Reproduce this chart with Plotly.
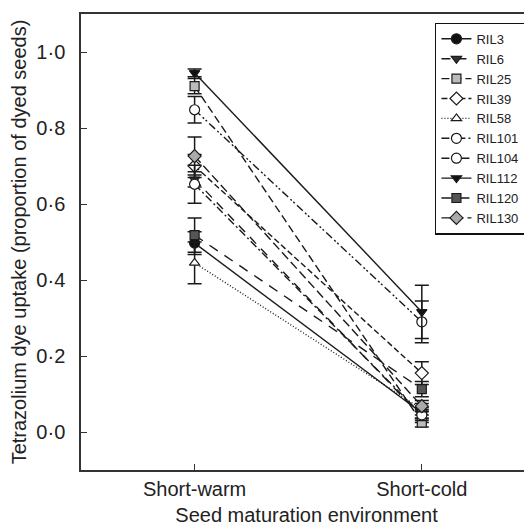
import plotly.graph_objects as go

envs = ['Short-warm', 'Short-cold']
lines = ['RIL3', 'RIL6', 'RIL25', 'RIL39', 'RIL58', 'RIL101', 'RIL104', 'RIL112', 'RIL120', 'RIL130']

# mean proportion of dyed seeds: [short-warm, short-cold]
means = {
    'RIL3':   [0.497, 0.050],
    'RIL6':   [0.665, 0.040],
    'RIL25':  [0.910, 0.025],
    'RIL39':  [0.700, 0.155],
    'RIL58':  [0.445, 0.060],
    'RIL101': [0.652, 0.045],
    'RIL104': [0.848, 0.290],
    'RIL112': [0.945, 0.316],
    'RIL120': [0.518, 0.113],
    'RIL130': [0.726, 0.068],
}
errs = {
    'RIL3':   [0.030, 0.015],
    'RIL6':   [0.020, 0.015],
    'RIL25':  [0.020, 0.012],
    'RIL39':  [0.030, 0.030],
    'RIL58':  [0.055, 0.015],
    'RIL101': [0.050, 0.015],
    'RIL104': [0.035, 0.055],
    'RIL112': [0.010, 0.070],
    'RIL120': [0.045, 0.020],
    'RIL130': [0.050, 0.015],
}

yticks = [0, 0.2, 0.4, 0.6, 0.8, 1.0]
yticklabels = ['0·0', '0·2', '0·4', '0·6', '0·8', '1·0']

# line dash, marker symbol, marker fill
styles = {
    'RIL3':   ('solid', 'circle', '#111111'),
    'RIL6':   ('9px,7px', 'triangle-down', '#333333'),
    'RIL25':  ('8px,4px', 'square', '#bbbbbb'),
    'RIL39':  ('6px,3px', 'diamond', 'white'),
    'RIL58':  ('1px,2px', 'triangle-up', 'white'),
    'RIL101': ('8px,3px,2px,3px', 'circle', 'white'),
    'RIL104': ('8px,3px,2px,2px,2px,3px', 'circle', 'white'),
    'RIL112': ('solid', 'triangle-down', '#111111'),
    'RIL120': ('10px,8px', 'square', '#555555'),
    'RIL130': ('9px,4px', 'diamond', '#aaaaaa'),
}

fig = go.Figure()
for name in lines:
    dash, sym, fill = styles[name]
    fig.add_trace(go.Scatter(
        x=envs, y=means[name], name=name, mode='lines+markers',
        line=dict(color='#1a1a1a', width=1.4, dash=dash),
        marker=dict(symbol=sym, size=10 if 'circle' in sym or 'diamond' in sym else 9,
                    color=fill, line=dict(color='#1a1a1a', width=1.2)),
        error_y=dict(type='data', array=errs[name], color='#1a1a1a',
                     thickness=1.5, width=7),
    ))

# page body adds an 8px margin, so the figure is 8px smaller than the window
fig.update_layout(
    width=524, height=521,
    margin=dict(l=73, r=0, t=6, b=59),
    paper_bgcolor='white', plot_bgcolor='white',
    font=dict(family='Liberation Sans, Arial, sans-serif', size=20, color='#222222'),
    showlegend=True,
    legend=dict(x=0.985, y=0.981, xanchor='right', yanchor='top',
                bordercolor='#111111', borderwidth=1.2, bgcolor='white',
                font=dict(size=13), tracegroupgap=0, itemwidth=30,
                entrywidth=118, entrywidthmode='pixels'),
)
fig.update_xaxes(
    range=[-0.5, 1.485], showline=True, linecolor='#333333', linewidth=1.5,
    mirror=True, ticks='inside', ticklen=6, tickcolor='#333333',
    showgrid=False, zeroline=False, automargin=False,
    tickfont=dict(size=20),
    title=dict(text='Seed maturation environment', standoff=9, font=dict(size=20)),
)
fig.update_yaxes(
    range=[-0.1, 1.1], showline=True, linecolor='#333333', linewidth=1.5,
    ticks='inside', ticklen=6, tickcolor='#333333',
    tickvals=yticks, ticktext=yticklabels, ticklabelstandoff=10,
    showgrid=False, zeroline=False, automargin=False,
    tickfont=dict(size=20),
    title=dict(text='Tetrazolium dye uptake (proportion of dyed seeds)', standoff=4,
               font=dict(size=20)),
)

fig.write_html('out.html')
